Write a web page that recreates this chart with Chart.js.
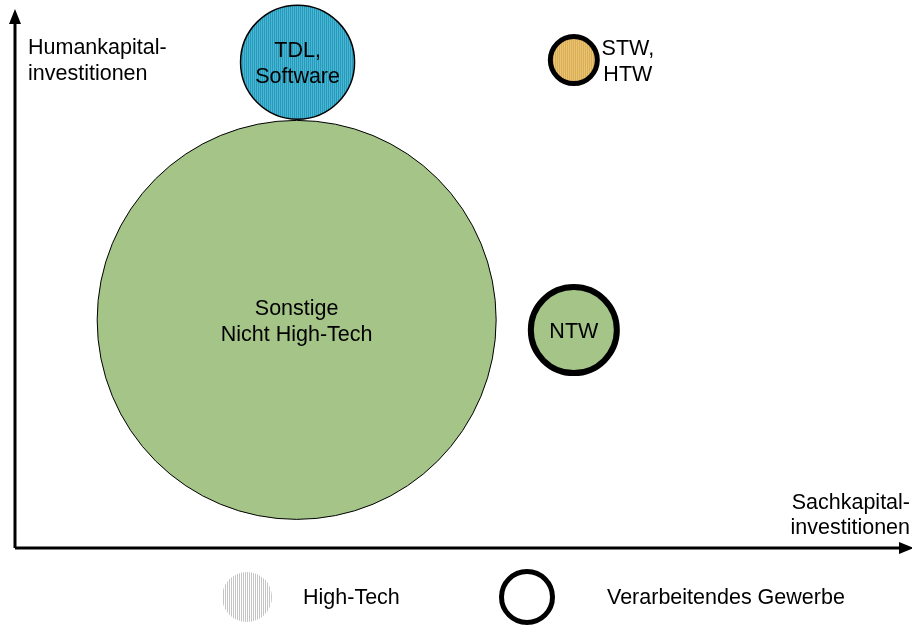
<!DOCTYPE html>
<html>
<head>
<meta charset="utf-8">
<script src="https://cdn.jsdelivr.net/npm/chart.js@4.4.0/dist/chart.umd.min.js"></script>
<style>
  html, body { margin: 0; padding: 0; background: #fff; }
  #wrap { width: 912px; height: 625px; }
</style>
</head>
<body>
<div id="wrap"><canvas id="chart"></canvas></div>
<script>
// bubbles: Sachkapital (x) vs Humankapital (y), r = bubble size
const names = [['Sonstige', 'Nicht High-Tech'], ['TDL,', 'Software'], ['NTW'], ['STW,', 'HTW']];
const sachkapital = [3.14, 3.15, 6.23, 6.23];
const humankapital = [4.24, 9.03, 4.05, 9.07];
const size = [199.5, 57, 43, 23.5];
const highTech = [false, true, false, true];
const verarbeitend = [false, false, true, true];
const colors = ['#a4c488', '#219cbe', '#a4c488', '#ebc36e'];
const stripes = ['#a4c488', '#4fb4cf', '#a4c488', '#d9ae5a'];

const FONT = '21.5px "Liberation Sans", Arial, sans-serif';

function hatch(base, stripe) {
    const p = document.createElement('canvas');
    p.width = 2; p.height = 2;
    const g = p.getContext('2d');
    g.fillStyle = base;
    g.fillRect(0, 0, 2, 2);
    g.fillStyle = stripe;
    g.fillRect(1, 0, 1, 2);
    return g.createPattern(p, 'repeat');
}

const fills = colors.map((c, i) => highTech[i] ? hatch(c, stripes[i]) : c);

const labelPlugin = {
    id: 'labels',
    afterDatasetsDraw(chart) {
        const ctx = chart.ctx;
        const meta = chart.getDatasetMeta(0);
        ctx.save();
        ctx.font = FONT;
        ctx.fillStyle = '#000';
        ctx.textBaseline = 'middle';
        ctx.textAlign = 'center';
        meta.data.forEach((el, i) => {
            const lines = names[i];
            // small bubble gets its label on the right side
            const x = size[i] < 30 ? el.x + 54 : el.x;
            const y0 = el.y + 2 - (lines.length - 1) * 13;
            lines.forEach((t, k) => ctx.fillText(t, x, y0 + k * 26));
        });
        ctx.restore();
    }
};

const axesPlugin = {
    id: 'axes',
    afterDraw(chart) {
        const ctx = chart.ctx;
        const a = chart.chartArea;
        ctx.save();
        ctx.strokeStyle = '#000';
        ctx.fillStyle = '#000';
        ctx.lineWidth = 3;
        ctx.beginPath();
        ctx.moveTo(a.left, a.bottom);
        ctx.lineTo(a.left, a.top + 10);
        ctx.moveTo(a.left, a.bottom);
        ctx.lineTo(a.right - 10, a.bottom);
        ctx.stroke();
        // arrow heads
        ctx.beginPath();
        ctx.moveTo(a.left, a.top - 1);
        ctx.lineTo(a.left - 6, a.top + 14);
        ctx.lineTo(a.left + 6, a.top + 14);
        ctx.closePath();
        ctx.fill();
        ctx.beginPath();
        ctx.moveTo(a.right + 2, a.bottom);
        ctx.lineTo(a.right - 13, a.bottom - 6);
        ctx.lineTo(a.right - 13, a.bottom + 6);
        ctx.closePath();
        ctx.fill();

        ctx.font = FONT;
        ctx.textBaseline = 'middle';
        ctx.textAlign = 'left';
        ctx.fillText('Humankapital-', 28, 48);
        ctx.fillText('investitionen', 28, 74);
        ctx.textAlign = 'right';
        ctx.fillText('Sachkapital-', 910, 503);
        ctx.fillText('investitionen', 910, 528);

        // legend
        ctx.fillStyle = hatch('#ffffff', '#c4c4c4');
        ctx.beginPath();
        ctx.arc(247, 597, 25, 0, Math.PI * 2);
        ctx.fill();
        ctx.lineWidth = 5;
        ctx.beginPath();
        ctx.arc(527, 597, 25.5, 0, Math.PI * 2);
        ctx.stroke();
        ctx.fillStyle = '#000';
        ctx.textAlign = 'left';
        ctx.fillText('High-Tech', 303, 598);
        ctx.fillText('Verarbeitendes Gewerbe', 607, 598);
        ctx.restore();
    }
};

new Chart(document.getElementById('chart'), {
    type: 'bubble',
    data: {
        datasets: [{
            data: sachkapital.map((x, i) => ({ x: x, y: humankapital[i], r: size[i] })),
            backgroundColor: fills,
            borderColor: '#000',
            borderWidth: verarbeitend.map((v, i) => v ? (size[i] < 30 ? 5 : 6) : (highTech[i] ? 1.5 : 1)),
            clip: false
        }]
    },
    options: {
        responsive: true,
        maintainAspectRatio: false,
        animation: false,
        events: [],
        layout: { autoPadding: false, padding: { left: 15, top: 10, right: 0, bottom: 77 } },
        plugins: { legend: { display: false }, tooltip: { enabled: false } },
        scales: {
            x: { min: 0, max: 10, display: false },
            y: { min: 0, max: 10, display: false }
        }
    },
    plugins: [labelPlugin, axesPlugin]
});
</script>
</body>
</html>
